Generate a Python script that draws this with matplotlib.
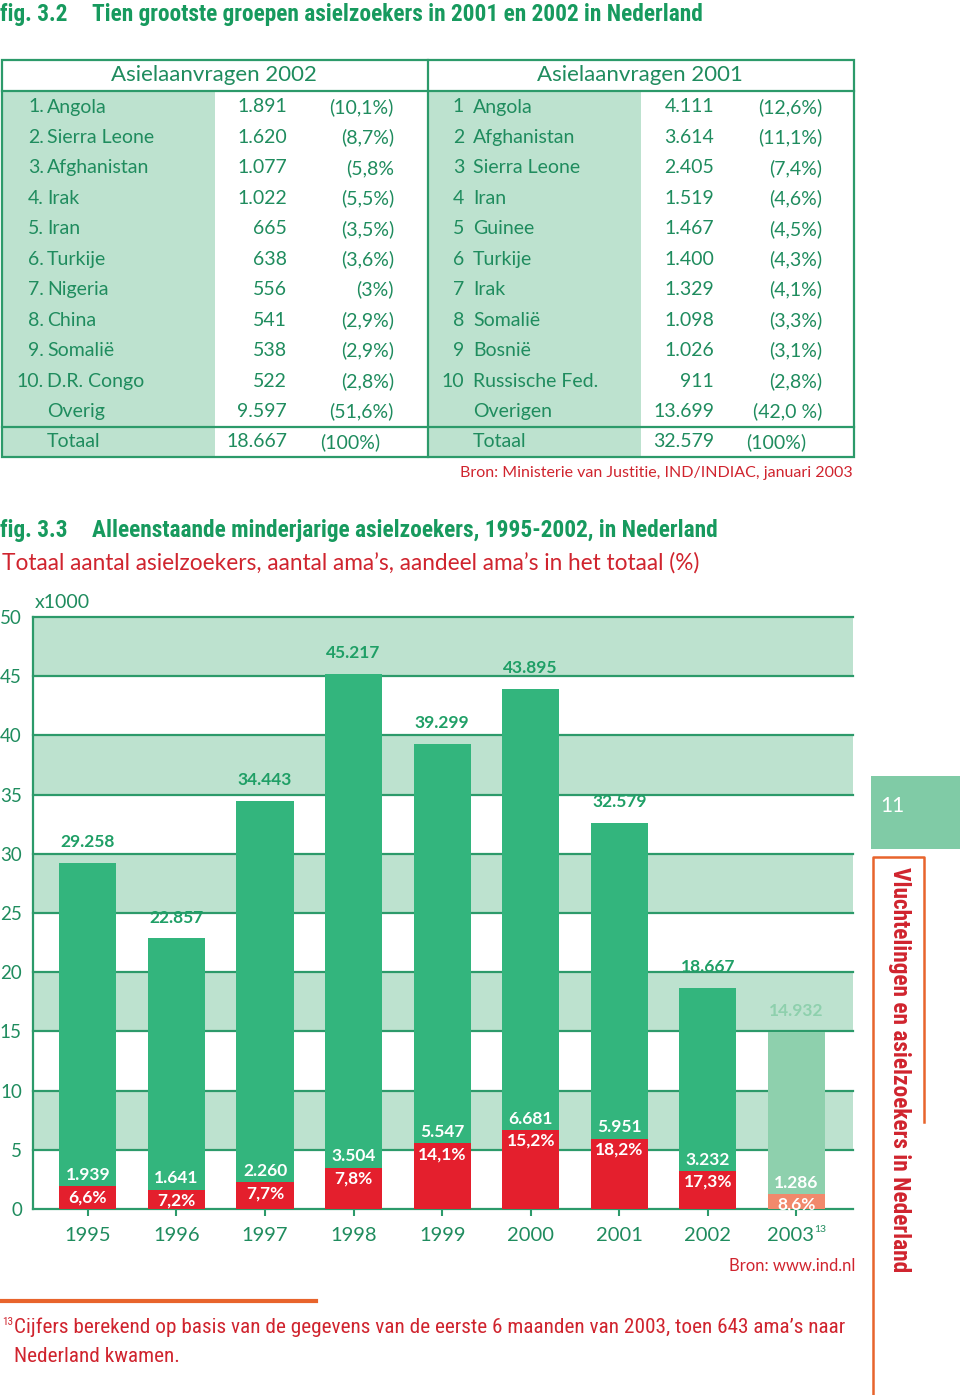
import matplotlib
matplotlib.use('Agg')
import matplotlib.pyplot as plt
from matplotlib.patches import Rectangle
from matplotlib.transforms import ScaledTranslation

# ---- data: fig. 3.2 table ----
ranks_2002 = ['1.', '2.', '3.', '4.', '5.', '6.', '7.', '8.', '9.', '10.']
countries_2002 = ['Angola', 'Sierra Leone', 'Afghanistan', 'Irak', 'Iran', 'Turkije',
                  'Nigeria', 'China', 'Somalië', 'D.R. Congo']
counts_2002 = ['1.891', '1.620', '1.077', '1.022', '665', '638', '556', '541', '538', '522']
shares_2002 = ['(10,1%)', '(8,7%)', '(5,8%', '(5,5%)', '(3,5%)', '(3,6%)', '(3%)',
               '(2,9%)', '(2,9%)', '(2,8%)']
rest_2002 = ['Overig', '9.597', '(51,6%)']
total_2002 = ['Totaal', '18.667', '(100%)']

ranks_2001 = ['1', '2', '3', '4', '5', '6', '7', '8', '9', '10']
countries_2001 = ['Angola', 'Afghanistan', 'Sierra Leone', 'Iran', 'Guinee', 'Turkije',
                  'Irak', 'Somalië', 'Bosnië', 'Russische Fed.']
counts_2001 = ['4.111', '3.614', '2.405', '1.519', '1.467', '1.400', '1.329', '1.098',
               '1.026', '911']
shares_2001 = ['(12,6%)', '(11,1%)', '(7,4%)', '(4,6%)', '(4,5%)', '(4,3%)', '(4,1%)',
               '(3,3%)', '(3,1%)', '(2,8%)']
rest_2001 = ['Overigen', '13.699', '(42,0 %)']
total_2001 = ['Totaal', '32.579', '(100%)']

# ---- data: fig. 3.3 bars (x1000) ----
years = ['1995', '1996', '1997', '1998', '1999', '2000', '2001', '2002', '2003']
totals = [29.258, 22.857, 34.443, 45.217, 39.299, 43.895, 32.579, 18.667, 14.932]
total_labels = ['29.258', '22.857', '34.443', '45.217', '39.299', '43.895', '32.579',
                '18.667', '14.932']
amas = [1.939, 1.641, 2.260, 3.504, 5.547, 6.681, 5.951, 3.232, 1.286]
ama_labels = ['1.939', '1.641', '2.260', '3.504', '5.547', '6.681', '5.951', '3.232', '1.286']
ama_shares = ['6,6%', '7,2%', '7,7%', '7,8%', '14,1%', '15,2%', '18,2%', '17,3%', '8,6%']

GREEN_TXT = '#1f8c5e'
GREEN_TITLE = '#179a5e'
GREEN_LINE = '#2c9a6a'
GREEN_BAR = '#33b57d'
GREEN_LABEL = '#1f9f66'
GREEN_LIGHT = '#bde2cf'
GREEN_2003 = '#8ed0ad'
RED = '#e41f2d'
RED_TXT = '#d0242e'
SALMON = '#f1896c'
ORANGE = '#e8642c'

plt.rcParams['font.family'] = ['Lato', 'DejaVu Sans']
COND = ['Roboto Condensed', 'Roboto', 'DejaVu Sans']

fig = plt.figure(figsize=(9.6, 13.95), dpi=100)
page = fig.add_axes([0, 0, 1, 1])
page.set_xlim(0, 960)
page.set_ylim(1395, 0)
page.axis('off')

# ---- fig 3.2 title ----
page.text(0, 14, 'fig. 3.2', family=COND, weight='bold', fontsize=16.8,
          color=GREEN_TITLE, va='center')
page.text(92, 14, 'Tien grootste groepen asielzoekers in 2001 en 2002 in Nederland',
          family=COND, weight='bold', fontsize=16.8, color=GREEN_TITLE, va='center')

# ---- table ----
top, head_bot, tot_line, bot = 60, 91, 427, 457
page.add_patch(Rectangle((2, head_bot), 213, bot - head_bot, color=GREEN_LIGHT, lw=0))
page.add_patch(Rectangle((428, head_bot), 213, bot - head_bot, color=GREEN_LIGHT, lw=0))
page.add_patch(Rectangle((2, top), 852, bot - top, fill=False, ec=GREEN_LINE, lw=1.6))
page.plot([2, 854], [head_bot, head_bot], color=GREEN_LINE, lw=1.6)
page.plot([2, 854], [tot_line, tot_line], color=GREEN_LINE, lw=1.6)
page.plot([428, 428], [top, bot], color=GREEN_LINE, lw=1.6)

page.text(214, 75, 'Asielaanvragen 2002', fontsize=16, color=GREEN_TXT, ha='center', va='center')
page.text(640, 75, 'Asielaanvragen 2001', fontsize=16, color=GREEN_TXT, ha='center', va='center')

fs = 14
row_y = [107 + 30.45 * i for i in range(12)]
for i in range(10):
    y = row_y[i]
    page.text(44, y, ranks_2002[i], fontsize=fs, color=GREEN_TXT, ha='right', va='center')
    page.text(47, y, countries_2002[i], fontsize=fs, color=GREEN_TXT, va='center')
    page.text(287, y, counts_2002[i], fontsize=fs, color=GREEN_TXT, ha='right', va='center')
    page.text(394, y, shares_2002[i], fontsize=fs, color=GREEN_TXT, ha='right', va='center')
    page.text(464, y, ranks_2001[i], fontsize=fs, color=GREEN_TXT, ha='right', va='center')
    page.text(473, y, countries_2001[i], fontsize=fs, color=GREEN_TXT, va='center')
    page.text(714, y, counts_2001[i], fontsize=fs, color=GREEN_TXT, ha='right', va='center')
    page.text(822, y, shares_2001[i], fontsize=fs, color=GREEN_TXT, ha='right', va='center')

for row, y, pr in [(rest_2002, row_y[10], 394), (total_2002, row_y[11], 380)]:
    page.text(47, y, row[0], fontsize=fs, color=GREEN_TXT, va='center')
    page.text(287, y, row[1], fontsize=fs, color=GREEN_TXT, ha='right', va='center')
    page.text(pr, y, row[2], fontsize=fs, color=GREEN_TXT, ha='right', va='center')
for row, y, pr in [(rest_2001, row_y[10], 822), (total_2001, row_y[11], 806)]:
    page.text(473, y, row[0], fontsize=fs, color=GREEN_TXT, va='center')
    page.text(714, y, row[1], fontsize=fs, color=GREEN_TXT, ha='right', va='center')
    page.text(pr, y, row[2], fontsize=fs, color=GREEN_TXT, ha='right', va='center')

page.text(853, 473, 'Bron: Ministerie van Justitie, IND/INDIAC, januari 2003',
          fontsize=11.5, color=RED_TXT, ha='right', va='center')

# ---- fig 3.3 titles ----
page.text(0, 531, 'fig. 3.3', family=COND, weight='bold', fontsize=16.8,
          color=GREEN_TITLE, va='center')
page.text(92, 531, 'Alleenstaande minderjarige asielzoekers, 1995-2002, in Nederland',
          family=COND, weight='bold', fontsize=16.8, color=GREEN_TITLE, va='center')
page.text(2, 563, 'Totaal aantal asielzoekers, aantal ama\u2019s, aandeel ama\u2019s in het totaal (%)',
          fontsize=16.3, color=RED_TXT, va='center')
page.text(35, 603, 'x1000', fontsize=14, color=GREEN_TXT, va='center')

# ---- bar chart ----
ax = fig.add_axes([33 / 960, 1 - 1209 / 1395, 820 / 960, 592 / 1395])
x = list(range(len(years)))
ax.set_xlim(-0.62, 8.64)
ax.set_ylim(0, 50)
for lo in range(5, 50, 10):
    ax.axhspan(lo, lo + 5, color=GREEN_LIGHT, lw=0, zorder=0)
for v in range(0, 55, 5):
    ax.axhline(v, color=GREEN_LINE, lw=1.6, zorder=1, clip_on=False)

tot_colors = [GREEN_BAR] * 8 + [GREEN_2003]
ama_colors = [RED] * 8 + [SALMON]
ax.bar(x, totals, width=0.645, color=tot_colors, zorder=2)
ax.bar(x, amas, width=0.645, color=ama_colors, zorder=3)

for xi, t, tl, a, al, sh in zip(x, totals, total_labels, amas, ama_labels, ama_shares):
    tc = GREEN_LABEL if xi < 8 else GREEN_2003
    ax.annotate(tl, (xi, t), xytext=(0, 15), textcoords='offset points', ha='center',
                va='center', fontsize=12.5, weight='bold', color=tc, zorder=5)
    ax.annotate(al, (xi, a), xytext=(0, 8), textcoords='offset points', ha='center',
                va='center', fontsize=12.5, weight='bold', color='white', zorder=5)
    ax.annotate(sh, (xi, a), xytext=(0, -8), textcoords='offset points', ha='center',
                va='center', fontsize=12.5, weight='bold', color='white', zorder=5)

for s in ['top', 'right', 'bottom']:
    ax.spines[s].set_visible(False)
ax.spines['left'].set_color(GREEN_LINE)
ax.spines['left'].set_linewidth(1.6)
ax.set_yticks(range(0, 55, 5))
ax.tick_params(axis='y', length=0, pad=8, labelsize=13.5, labelcolor=GREEN_TXT)
ax.set_xticks(x)
ax.set_xticklabels(years)
ax.tick_params(axis='x', length=5, width=1.5, color=GREEN_LINE, pad=8,
               labelsize=14.5, labelcolor=GREEN_TXT)
# 2003 label sits a little left of its tick to make room for the footnote mark
lab = ax.get_xticklabels()[-1]
lab.set_transform(lab.get_transform() + ScaledTranslation(-0.055, 0, fig.dpi_scale_trans))
page.text(814, 1229, '13', fontsize=7.5, color=GREEN_TXT, va='center')

page.text(855, 1266, 'Bron: www.ind.nl', fontsize=12, color=RED_TXT, ha='right', va='center')

# ---- side tab ----
page.add_patch(Rectangle((871, 776), 89, 73, color='#80cba6', lw=0))
page.text(880, 806, '11', fontsize=15, color='white', va='center')
page.plot([873, 873, 924, 924], [1395, 857, 857, 1122], color=ORANGE, lw=1.8)
page.text(899, 1070, 'Vluchtelingen en asielzoekers in Nederland', family=COND,
          weight='bold', fontsize=16.8, color=RED_TXT, rotation=-90, ha='center', va='center')

# ---- footnote ----
page.plot([0, 316], [1301, 1301], color=ORANGE, lw=3)
page.text(2, 1322, '13', family=COND, fontsize=8, color=RED_TXT, va='center')
page.text(14, 1327, 'Cijfers berekend op basis van de gegevens van de eerste 6 maanden van 2003, '
          'toen 643 ama\u2019s naar', family=COND, fontsize=15.3, color=RED_TXT, va='center')
page.text(14, 1357, 'Nederland kwamen.', family=COND, fontsize=15.3, color=RED_TXT, va='center')

fig.savefig('out.png', dpi=100)
